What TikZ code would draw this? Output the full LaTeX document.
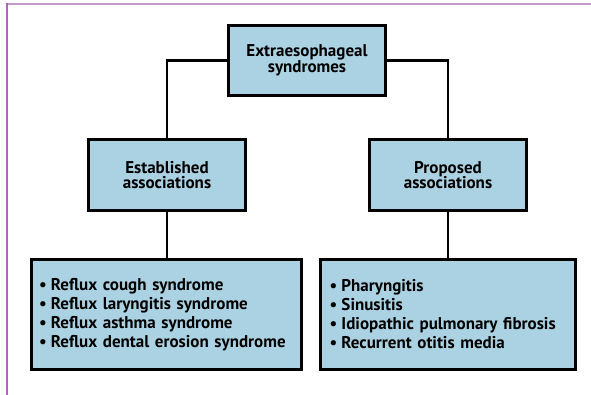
\documentclass[tikz,border=0pt]{standalone}
\usepackage{fontspec}
\setmainfont{PT Sans}
\usetikzlibrary{positioning, calc}
\definecolor{boxblue}{HTML}{ABD2E2}
\definecolor{rulelilac}{HTML}{C498C8}
\definecolor{ruleplum}{HTML}{B462C2}

\newcommand{\bitem}[1]{\makebox[12pt][l]{\textbullet}#1}

\begin{document}
\begin{tikzpicture}[
  x=1pt, y=1pt,
  box/.style={draw=black, fill=boxblue, line width=2.6pt, font=\bfseries\fontsize{17}{15.5}\selectfont,
    align=center, minimum width=157.4pt, minimum height=71.4pt, inner sep=0pt},
  listbox/.style={draw=black, fill=boxblue, line width=2.6pt, font=\bfseries\fontsize{17}{19}\selectfont,
    align=left, minimum height=110.4pt, inner sep=0pt},
  link/.style={draw=black, line width=2.6pt},
]

% Page frame
\useasboundingbox (0,0) rectangle (591,395);
\draw[rulelilac, line width=2pt] (6,390.5) -- (591,390.5);
\draw[ruleplum, line width=2pt] (6.5,391.5) -- (6.5,0);

% === Top box ===
\node[box, minimum height=70.4pt] (top) at (307,334.5) {Extraesophageal\\syndromes};

% === Middle boxes ===
\node[box] (established) at (167,220) {Established\\associations};
\node[box] (proposed) at (448,220) {Proposed\\associations};

% === Lists ===
\node[listbox, minimum width=270.4pt, text width=255pt] (estlist) at (166.5,80.5)
  {\bitem{Reflux cough syndrome}\\
   \bitem{Reflux laryngitis syndrome}\\
   \bitem{Reflux asthma syndrome}\\
   \bitem{Reflux dental erosion syndrome}};
\node[listbox, minimum width=255.4pt, text width=237pt] (proplist) at (448,80.5)
  {\bitem{Pharyngitis}\\
   \bitem{Sinusitis}\\
   \bitem{Idiopathic pulmonary fibrosis}\\
   \bitem{Recurrent otitis media}};

% === Connectors ===
\draw[link] (top.west) -| (established.north);
\draw[link] (top.east) -| (proposed.north);
\draw[link] (established.south) -- (established.south |- estlist.north);
\draw[link] (proposed.south) -- (proposed.south |- proplist.north);

\end{tikzpicture}
\end{document}
